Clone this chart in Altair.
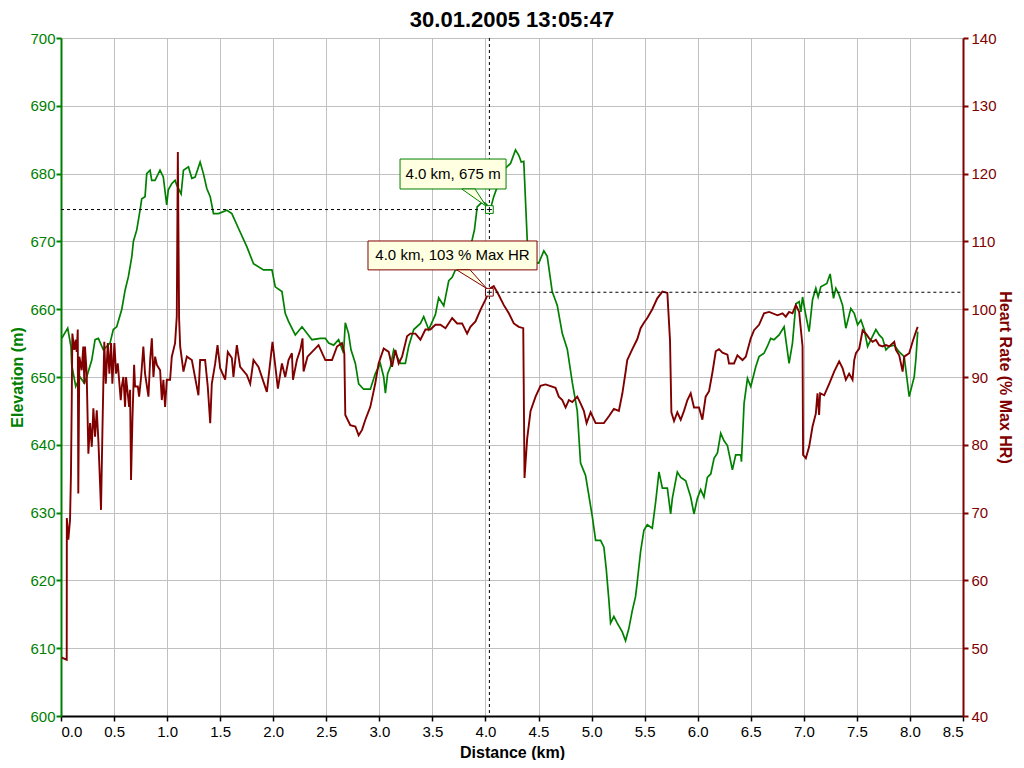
import altair as alt
import pandas as pd

# ---------------- data ----------------
elev_km = [0.007, 0.063, 0.094, 0.101, 0.139, 0.179, 0.220, 0.242, 0.290, 0.321, 0.352, 0.399, 0.462, 0.493,
           0.525, 0.573, 0.604, 0.635, 0.667, 0.682, 0.714, 0.745, 0.761, 0.792, 0.808, 0.839, 0.855, 0.886,
           0.933, 0.964, 0.996, 1.011, 1.043, 1.075, 1.091, 1.132, 1.154, 1.201, 1.233, 1.264, 1.311, 1.342,
           1.374, 1.406, 1.437, 1.484, 1.563, 1.610, 1.673, 1.752, 1.814, 1.908, 1.988, 2.019, 2.082, 2.113,
           2.144, 2.208, 2.271, 2.365, 2.443, 2.491, 2.522, 2.569, 2.616, 2.663, 2.679, 2.710, 2.733, 2.774,
           2.805, 2.852, 2.915, 2.962, 3.009, 3.041, 3.057, 3.078, 3.104, 3.135, 3.167, 3.198, 3.245, 3.276,
           3.324, 3.387, 3.418, 3.443, 3.465, 3.528, 3.559, 3.607, 3.654, 3.686, 3.717, 3.764, 3.811, 3.874,
           3.896, 3.922, 3.969, 4.000, 4.047, 4.078, 4.110, 4.142, 4.189, 4.236, 4.283, 4.314, 4.337, 4.361,
           4.393, 4.408, 4.502, 4.550, 4.582, 4.629, 4.676, 4.724, 4.771, 4.818, 4.865, 4.896, 4.943, 5.006,
           5.038, 5.085, 5.116, 5.138, 5.163, 5.179, 5.210, 5.242, 5.289, 5.320, 5.351, 5.383, 5.414, 5.430,
           5.462, 5.493, 5.525, 5.572, 5.604, 5.635, 5.667, 5.714, 5.745, 5.761, 5.808, 5.840, 5.887, 5.934,
           5.965, 5.997, 6.028, 6.059, 6.091, 6.123, 6.154, 6.186, 6.217, 6.248, 6.280, 6.327, 6.358, 6.406,
           6.412, 6.437, 6.469, 6.500, 6.547, 6.578, 6.625, 6.656, 6.688, 6.719, 6.767, 6.814, 6.861, 6.893,
           6.925, 6.956, 6.972, 6.988, 7.019, 7.050, 7.082, 7.113, 7.135, 7.160, 7.217, 7.248, 7.280, 7.302,
           7.333, 7.365, 7.396, 7.443, 7.475, 7.507, 7.538, 7.569, 7.601, 7.632, 7.679, 7.710, 7.742, 7.774,
           7.805, 7.852, 7.899, 7.946, 7.993, 8.025, 8.040, 8.057, 8.073]
elev_m = [655.7, 657.2, 654.5, 651.8, 648.6, 650.0, 649.1, 650.0, 652.5, 655.5, 655.7, 654.0, 655.0, 657.0,
          657.4, 660.0, 662.8, 664.8, 667.7, 670.0, 671.7, 674.6, 676.3, 676.6, 680.0, 680.5, 679.0, 679.0,
          680.5, 679.5, 675.4, 677.6, 678.5, 679.0, 678.3, 677.0, 680.5, 681.0, 679.3, 679.5, 681.7, 680.0,
          677.8, 676.6, 674.1, 674.1, 674.6, 674.1, 671.9, 669.2, 666.7, 665.8, 665.8, 663.3, 662.6, 659.4,
          658.2, 656.2, 657.4, 655.5, 655.7, 655.7, 655.0, 654.7, 655.5, 653.5, 658.0, 656.4, 654.0, 652.0,
          649.0, 648.2, 648.2, 650.5, 652.0, 650.0, 647.6, 650.5, 651.5, 654.0, 653.0, 652.0, 652.0, 654.5,
          657.0, 657.9, 658.9, 657.9, 657.0, 659.2, 661.7, 660.5, 664.2, 664.7, 665.8, 665.8, 666.7, 670.2,
          671.7, 675.1, 675.8, 675.6, 674.8, 676.6, 678.0, 679.0, 680.8, 681.5, 683.5, 682.7, 681.7, 681.8,
          670.4, 667.0, 666.8, 668.6, 667.8, 662.6, 660.6, 656.4, 654.1, 649.2, 645.0, 637.3, 635.5, 629.5,
          625.9, 625.9, 624.9, 621.7, 617.1, 613.7, 614.7, 613.7, 612.4, 611.1, 612.9, 615.5, 617.6, 619.7,
          624.3, 627.4, 628.2, 627.7, 631.6, 636.0, 633.6, 633.6, 629.8, 632.1, 636.0, 635.2, 634.7, 632.3,
          629.8, 632.1, 633.4, 632.3, 635.2, 635.7, 638.0, 638.8, 641.7, 640.6, 639.9, 636.3, 638.5, 638.5,
          637.5, 646.1, 649.8, 648.6, 651.5, 653.0, 653.5, 654.5, 655.7, 655.5, 656.2, 657.4, 652.0, 655.0,
          660.8, 661.1, 659.6, 661.8, 659.1, 656.7, 661.4, 663.1, 661.8, 663.3, 663.8, 665.2, 661.6, 663.1,
          662.1, 660.6, 657.2, 660.1, 659.4, 657.7, 658.4, 657.0, 654.5, 655.5, 657.0, 656.2, 655.7, 654.0,
          654.5, 654.7, 653.7, 653.0, 647.1, 649.1, 650.0, 652.8, 656.7]

hr_km = [0.007, 0.054, 0.055, 0.069, 0.085, 0.094, 0.101, 0.107, 0.125, 0.139, 0.148, 0.158, 0.163, 0.173,
         0.195, 0.210, 0.220, 0.226, 0.242, 0.258, 0.274, 0.290, 0.305, 0.321, 0.337, 0.352, 0.368, 0.377,
         0.390, 0.399, 0.408, 0.422, 0.441, 0.456, 0.472, 0.484, 0.503, 0.519, 0.535, 0.563, 0.573, 0.588,
         0.604, 0.613, 0.642, 0.651, 0.660, 0.673, 0.689, 0.698, 0.724, 0.736, 0.755, 0.776, 0.792, 0.824,
         0.840, 0.856, 0.871, 0.887, 0.903, 0.934, 0.950, 0.965, 0.981, 0.997, 1.028, 1.044, 1.075, 1.091,
         1.101, 1.113, 1.123, 1.154, 1.186, 1.233, 1.295, 1.311, 1.358, 1.383, 1.406, 1.421, 1.453, 1.475,
         1.500, 1.547, 1.572, 1.610, 1.625, 1.657, 1.688, 1.751, 1.783, 1.814, 1.861, 1.940, 1.993, 2.044,
         2.082, 2.113, 2.144, 2.176, 2.186, 2.223, 2.255, 2.276, 2.286, 2.323, 2.427, 2.491, 2.554, 2.601,
         2.648, 2.670, 2.679, 2.726, 2.774, 2.805, 2.837, 2.868, 2.915, 2.962, 2.993, 3.041, 3.088, 3.120,
         3.151, 3.182, 3.214, 3.261, 3.292, 3.340, 3.387, 3.434, 3.481, 3.528, 3.575, 3.623, 3.686, 3.733,
         3.780, 3.827, 3.858, 3.906, 3.953, 4.000, 4.047, 4.078, 4.125, 4.173, 4.220, 4.267, 4.314, 4.356,
         4.368, 4.393, 4.425, 4.472, 4.519, 4.566, 4.660, 4.691, 4.724, 4.755, 4.786, 4.818, 4.865, 4.896,
         4.927, 4.953, 4.991, 5.038, 5.116, 5.163, 5.210, 5.257, 5.290, 5.320, 5.336, 5.384, 5.431, 5.462,
         5.493, 5.525, 5.572, 5.619, 5.667, 5.714, 5.739, 5.752, 5.777, 5.808, 5.840, 5.871, 5.903, 5.934,
         5.965, 6.012, 6.044, 6.075, 6.107, 6.139, 6.170, 6.201, 6.233, 6.280, 6.295, 6.342, 6.374, 6.422,
         6.453, 6.500, 6.531, 6.578, 6.625, 6.673, 6.752, 6.799, 6.830, 6.861, 6.893, 6.925, 6.956, 6.988,
         6.993, 7.019, 7.050, 7.082, 7.113, 7.129, 7.144, 7.154, 7.192, 7.239, 7.286, 7.333, 7.365, 7.396,
         7.427, 7.459, 7.475, 7.491, 7.522, 7.554, 7.585, 7.616, 7.648, 7.679, 7.710, 7.742, 7.774, 7.805,
         7.852, 7.868, 7.899, 7.931, 7.946, 7.993, 8.025, 8.057, 8.073]
hr_pct = [48.6, 48.3, 69.2, 66.0, 68.9, 75.8, 86.1, 96.4, 94.0, 95.5, 93.7, 97.0, 72.8, 93.0,
          91.0, 94.5, 89.0, 94.5, 90.5, 78.7, 83.2, 79.7, 85.4, 81.2, 85.1, 80.7, 74.3, 70.4,
          81.7, 89.0, 95.2, 89.0, 95.0, 90.5, 95.0, 89.0, 95.0, 90.5, 92.0, 86.6, 88.6, 90.0,
          85.6, 90.0, 85.6, 88.1, 74.8, 83.7, 91.8, 88.6, 88.6, 87.1, 90.0, 94.5, 90.5, 87.1,
          92.5, 95.7, 90.0, 93.0, 91.8, 91.0, 86.6, 89.6, 85.6, 89.6, 89.6, 93.0, 95.0, 98.9,
          123.2, 98.6, 94.5, 90.8, 93.0, 92.5, 87.3, 92.5, 92.5, 88.6, 83.2, 89.0, 92.0, 94.7,
          91.3, 89.6, 93.7, 92.8, 90.0, 94.7, 91.5, 90.3, 89.0, 92.5, 91.5, 87.8, 95.2, 88.3,
          92.0, 90.0, 92.5, 93.5, 89.6, 92.5, 94.0, 95.7, 90.8, 93.0, 94.7, 92.5, 92.5, 94.5,
          95.0, 93.5, 84.4, 82.9, 82.7, 81.4, 82.2, 83.7, 85.6, 89.1, 92.0, 94.2, 93.7, 91.5,
          94.0, 92.0, 93.0, 96.0, 96.4, 96.4, 95.5, 97.0, 97.0, 97.7, 97.7, 97.2, 98.7, 97.9,
          97.9, 96.4, 97.4, 98.2, 99.9, 101.4, 103.1, 103.4, 102.1, 100.6, 99.4, 97.9, 97.4, 97.2,
          75.1, 80.9, 85.0, 87.1, 88.7, 88.9, 88.4, 87.1, 86.6, 85.5, 86.6, 86.3, 87.1, 86.1,
          85.0, 83.2, 84.8, 83.2, 83.2, 84.2, 85.3, 85.0, 87.6, 90.7, 92.5, 94.1, 95.6, 97.2,
          98.0, 98.7, 100.0, 101.6, 102.6, 102.4, 95.4, 84.8, 83.5, 84.8, 83.7, 85.0, 86.6, 87.6,
          85.5, 85.5, 83.7, 87.1, 87.9, 90.7, 93.8, 94.1, 93.6, 93.3, 92.0, 92.0, 93.2, 92.5,
          93.0, 95.7, 96.9, 97.7, 99.4, 99.6, 99.1, 99.4, 98.9, 99.6, 99.4, 100.6, 99.6, 94.5,
          78.5, 78.0, 79.7, 82.7, 84.6, 87.6, 84.4, 87.6, 87.3, 89.0, 90.8, 92.3, 91.3, 89.6,
          90.5, 89.6, 92.5, 93.5, 94.2, 96.9, 96.4, 95.7, 95.2, 95.5, 94.7, 94.5, 94.7, 94.5,
          95.2, 94.0, 93.2, 90.8, 93.0, 93.5, 95.2, 96.7, 97.4]

x_ticks = [0.0, 0.5, 1.0, 1.5, 2.0, 2.5, 3.0, 3.5, 4.0, 4.5, 5.0, 5.5, 6.0, 6.5, 7.0, 7.5, 8.0, 8.5]
elev_ticks = [600, 610, 620, 630, 640, 650, 660, 670, 680, 690, 700]
hr_ticks = [40, 50, 60, 70, 80, 90, 100, 110, 120, 130, 140]

title_text = "30.01.2005 13:05:47"
cursor_km = 4.037
cursor_elev = 674.7
cursor_hr = 102.5
label_elev = "4.0 km, 675 m"
label_hr = "4.0 km, 103 % Max HR"

# ---------------- styling ----------------
GREEN = "#008000"
RED = "#800000"
GRID = "#c0c0c0"
TIP = "#ffffe1"
FONT = "Liberation Sans"
W, H = 902, 678

elev_df = pd.DataFrame({"km": elev_km, "v": elev_m, "i": range(len(elev_km))})
hr_df = pd.DataFrame({"km": hr_km, "v": hr_pct, "i": range(len(hr_km))})

xscale = alt.Scale(domain=[0, 8.5], nice=False, zero=False)
escale = alt.Scale(domain=[600, 700], nice=False, zero=False)
hscale = alt.Scale(domain=[40, 140], nice=False, zero=False)

x_axis = alt.Axis(values=x_ticks, format=".1f", title="Distance (km)", domainColor="black", domainWidth=2,
                  tickColor="black", tickSize=5, tickWidth=1.5, labelColor="black", labelFont=FONT,
                  labelFontSize=15, titleFont=FONT, titleFontSize=16, titleFontWeight="bold", titleColor="black",
                  grid=True, gridColor=GRID, labelPadding=3, titlePadding=5)
e_axis = alt.Axis(values=elev_ticks, title="Elevation (m)", orient="left", domainColor=GREEN, domainWidth=2,
                  tickColor=GREEN, tickSize=5, tickWidth=2, labelColor=GREEN, labelFont=FONT, labelFontSize=15,
                  titleFont=FONT, titleFontSize=16, titleFontWeight="bold", titleColor=GREEN,
                  grid=True, gridColor=GRID, labelPadding=1, titlePadding=4)
h_axis = alt.Axis(values=hr_ticks, title="Heart Rate (% Max HR)", orient="right", domainColor=RED, domainWidth=2,
                  tickColor=RED, tickSize=5, tickWidth=2, labelColor=RED, labelFont=FONT, labelFontSize=15,
                  titleFont=FONT, titleFontSize=16, titleFontWeight="bold", titleColor=RED, titleAngle=90,
                  grid=False, labelPadding=3, titlePadding=0)


def X(field="km"):
    return alt.X(f"{field}:Q", scale=xscale, axis=x_axis)


def YE(field="v"):
    return alt.Y(f"{field}:Q", scale=escale, axis=e_axis)


def YH(field="v"):
    return alt.Y(f"{field}:Q", scale=hscale, axis=h_axis)


dash = dict(color="black", strokeWidth=1, strokeDash=[3, 3])

# ---------------- elevation group ----------------
elev_line = alt.Chart(elev_df).mark_line(color=GREEN, strokeWidth=1.7).encode(x=X(), y=YE(), order="i:Q")

vline = alt.Chart(pd.DataFrame({"km": [cursor_km]})).mark_rule(**dash).encode(x=X())

e_h = alt.Chart(pd.DataFrame({"km": [0.0], "km2": [cursor_km], "v": [cursor_elev]})).mark_rule(**dash).encode(
    x=X(), x2="km2", y=YE())

e_box = alt.Chart(pd.DataFrame({"km": [cursor_km - 0.842], "km2": [cursor_km + 0.157],
                                "v": [cursor_elev + 3.03], "v2": [cursor_elev + 7.45]})).mark_rect(
    fill=TIP, stroke=GREEN, strokeWidth=1).encode(x=X(), x2="km2", y=YE(), y2="v2")

e_ptr = alt.Chart(pd.DataFrame({"km": [cursor_km - 0.26, cursor_km - 0.031],
                                "km2": [cursor_km - 0.135, cursor_km - 0.031],
                                "v": [cursor_elev + 3.03, cursor_elev + 0.5]})).mark_area(
    fill=TIP, stroke=GREEN, strokeWidth=1, opacity=1).encode(x=X(), x2="km2", y=YE())

e_txt = alt.Chart(pd.DataFrame({"km": [cursor_km - 0.342], "v": [cursor_elev + 5.24], "t": [label_elev]})).mark_text(
    font=FONT, fontSize=15, color="black", align="center", baseline="middle").encode(x=X(), y=YE(), text="t:N")

pt_df_e = pd.DataFrame({"km": [cursor_km], "v": [cursor_elev]})
e_mark = alt.Chart(pt_df_e).mark_point(
    shape="square", filled=True, fill="white", stroke=GREEN, strokeWidth=1, size=60, opacity=1).encode(x=X(), y=YE())
e_plus = alt.Chart(pt_df_e).mark_point(
    shape="M-0.65,0L0.65,0M0,-0.65L0,0.65", filled=False, stroke="black", strokeWidth=1, size=60,
    opacity=1).encode(x=X(), y=YE())

left = alt.layer(elev_line, vline, e_h, e_box, e_ptr, e_txt, e_mark, e_plus)

# ---------------- heart-rate group ----------------
hr_line = alt.Chart(hr_df).mark_line(color=RED, strokeWidth=1.9).encode(x=X(), y=YH(), order="i:Q")

h_h = alt.Chart(pd.DataFrame({"km": [cursor_km], "km2": [8.5], "v": [cursor_hr]})).mark_rule(**dash).encode(
    x=X(), x2="km2", y=YH())

h_box = alt.Chart(pd.DataFrame({"km": [cursor_km - 1.144], "km2": [cursor_km + 0.449],
                                "v": [cursor_hr + 3.3], "v2": [cursor_hr + 7.56]})).mark_rect(
    fill=TIP, stroke=RED, strokeWidth=1).encode(x=X(), x2="km2", y=YH(), y2="v2")

h_ptr = alt.Chart(pd.DataFrame({"km": [cursor_km - 0.308, cursor_km - 0.025],
                                "km2": [cursor_km - 0.182, cursor_km - 0.025],
                                "v": [cursor_hr + 3.3, cursor_hr + 0.55]})).mark_area(
    fill=TIP, stroke=RED, strokeWidth=1, opacity=1).encode(x=X(), x2="km2", y=YH())

h_txt = alt.Chart(pd.DataFrame({"km": [cursor_km - 0.348], "v": [cursor_hr + 5.43], "t": [label_hr]})).mark_text(
    font=FONT, fontSize=15, color="black", align="center", baseline="middle").encode(x=X(), y=YH(), text="t:N")

pt_df_h = pd.DataFrame({"km": [cursor_km], "v": [cursor_hr]})
h_mark = alt.Chart(pt_df_h).mark_point(
    shape="square", filled=True, fill="white", stroke=RED, strokeWidth=1, size=60, opacity=1).encode(x=X(), y=YH())
h_plus = alt.Chart(pt_df_h).mark_point(
    shape="M-0.65,0L0.65,0M0,-0.65L0,0.65", filled=False, stroke="black", strokeWidth=1, size=60,
    opacity=1).encode(x=X(), y=YH())

# chart title drawn as a text mark above the plot area
title_mark = alt.Chart(pd.DataFrame({"t": [title_text]})).mark_text(
    font=FONT, fontSize=22, fontWeight="bold", color="black", align="center", baseline="alphabetic").encode(
    x=alt.value(W / 2), y=alt.value(-11), text="t:N")

right = alt.layer(hr_line, h_h, h_box, h_ptr, h_txt, h_mark, h_plus, title_mark)

chart = alt.layer(left, right).resolve_scale(y="independent").properties(
    width=W, height=H,
    autosize=alt.AutoSizeParams(type="none"),
    padding={"left": 53, "top": 30, "right": 53, "bottom": 44},
).configure_view(stroke=None).configure(background="white")

chart.save("out.html", embed_options={"renderer": "svg", "actions": False})
